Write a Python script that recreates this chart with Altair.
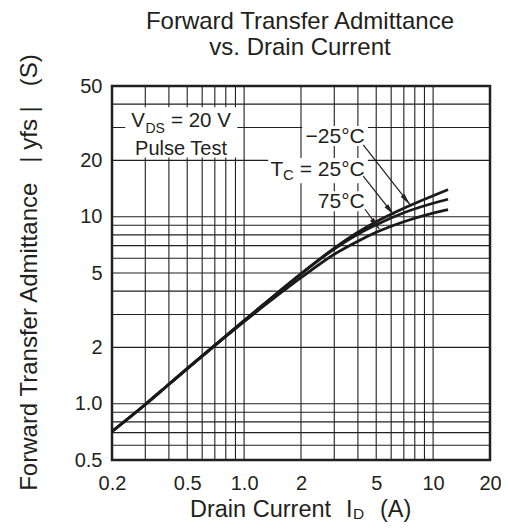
import altair as alt
import pandas as pd

# ---------------- data ----------------
current = [0.2, 0.3, 0.4, 0.5, 0.7, 1.0, 1.5, 2.0, 3.0, 4.0, 5.0, 7.0, 10.0, 12.0]
yfs_m25 = [0.71, 0.99, 1.27, 1.54, 2.05, 2.78, 3.91, 4.95, 6.79, 8.26, 9.40, 11.1, 12.95, 13.95]
yfs_p25 = [0.71, 0.99, 1.27, 1.54, 2.05, 2.78, 3.91, 4.95, 6.72, 8.06, 9.05, 10.5, 11.8, 12.4]
yfs_p75 = [0.71, 0.99, 1.27, 1.54, 2.05, 2.75, 3.79, 4.72, 6.30, 7.40, 8.25, 9.4, 10.45, 10.9]
series = ["-25°C", "25°C", "75°C"]

x_grid = [0.3, 0.4, 0.5, 0.6, 0.7, 0.8, 0.9, 1, 2, 3, 4, 5, 6, 7, 8, 9, 10]
y_grid = [0.6, 0.7, 0.8, 0.9, 1, 2, 3, 4, 5, 6, 7, 8, 9, 10, 20, 30, 40]
x_ticks = [0.2, 0.5, 1, 2, 5, 10, 20]
y_ticks = [0.5, 1, 2, 5, 10, 20, 50]

# annotation anchors (data units: A, S)
box_x = [[0.235, 0.92], [2.03, 4.52], [1.34, 4.52], [2.37, 4.52]]
box_y = [[20.7, 38.5], [23.9, 30.6], [15.1, 20.6], [10.7, 13.7]]
arrow_from = [(4.27, 24.2), (4.27, 16.5), (4.36, 10.96)]
arrow_to = [(7.55, 11.6), (6.21, 10.2), (5.19, 8.6)]
arrow_angle = [141.3, 140.5, 142.1]

INK = "#231f20"
FONT = "Liberation Sans"
NB = "\u00a0"

xs = alt.Scale(type="log", domain=[0.2, 20], nice=False)
ys = alt.Scale(type="log", domain=[0.5, 50], nice=False)

x_axis = alt.Axis(
    values=x_ticks, format="~g", labelExpr="datum.value == 1 ? '1.0' : datum.label",
    grid=False, ticks=False, domain=False, title=None, labelFontSize=20, labelFont=FONT,
    labelColor=INK, labelPadding=13, labelFlush=False)
y_axis = alt.Axis(
    values=y_ticks, format="~g", labelExpr="datum.value == 1 ? '1.0' : datum.label",
    grid=False, ticks=False, domain=False, title=None, labelFontSize=20, labelFont=FONT,
    labelColor=INK, labelPadding=10, labelFlush=False)


def X(field):
    return alt.X(field, scale=xs, axis=x_axis)


def Y(field):
    return alt.Y(field, scale=ys, axis=y_axis)


rows = []
for name, vals in zip(series, [yfs_m25, yfs_p25, yfs_p75]):
    for c, v in zip(current, vals):
        rows.append({"series": name, "id": c, "yfs": v})
curves_df = pd.DataFrame(rows)

xgrid = alt.Chart(pd.DataFrame({"g": x_grid})).mark_rule(color=INK, strokeWidth=1.1).encode(
    x=X("g:Q"))
ygrid = alt.Chart(pd.DataFrame({"g": y_grid})).mark_rule(color=INK, strokeWidth=1.1).encode(
    y=Y("g:Q"))

boxes = alt.Chart(pd.DataFrame({
    "x1": [b[0] for b in box_x], "x2": [b[1] for b in box_x],
    "y1": [b[0] for b in box_y], "y2": [b[1] for b in box_y]})).mark_rect(color="white").encode(
    x=X("x1:Q"), x2="x2:Q", y=Y("y1:Q"), y2="y2:Q")

curves = alt.Chart(curves_df).mark_line(color="#1a1a1a", strokeWidth=2.8, interpolate="monotone").encode(
    x=X("id:Q"), y=Y("yfs:Q"), detail="series:N")

arrow_lines = alt.Chart(pd.DataFrame({
    "x1": [a[0] for a in arrow_from], "y1": [a[1] for a in arrow_from],
    "x2": [a[0] for a in arrow_to], "y2": [a[1] for a in arrow_to]})).mark_rule(
    color=INK, strokeWidth=1.2).encode(x=X("x1:Q"), y=Y("y1:Q"), x2="x2:Q", y2="y2:Q")

heads = []
for (hx, hy), ang in zip(arrow_to, arrow_angle):
    heads.append(alt.Chart(pd.DataFrame({"x": [hx], "y": [hy]})).mark_point(
        shape="M0,0L-0.4,2L0.4,2Z", size=144, filled=True, color=INK, opacity=1,
        angle=ang, strokeWidth=0).encode(x=X("x:Q"), y=Y("y:Q")))


def dtext(txt, x, y, size, align="left", dx=0, dy=0):
    return alt.Chart(pd.DataFrame({"x": [x], "y": [y], "t": [txt]})).mark_text(
        font=FONT, fontSize=size, color=INK, align=align, baseline="alphabetic",
        dx=dx, dy=dy).encode(x=X("x:Q"), y=Y("y:Q"), text="t:N")


def ptext(txt, x, y, size, align="left", angle=0):
    return alt.Chart(pd.DataFrame({"t": [txt]})).mark_text(
        font=FONT, fontSize=size, color=INK, align=align, baseline="alphabetic",
        angle=angle).encode(x=alt.value(x), y=alt.value(y), text="t:N")


texts = [
    # V_DS = 20 V / Pulse Test
    dtext("V", 0.4636, 30.3, 20.5, dx=-49.7),
    dtext("DS", 0.4636, 30.3, 14, dx=-35.5, dy=6.5),
    dtext("= 20 V", 0.4636, 30.3, 20.5, dx=-10),
    dtext("Pulse Test", 0.4636, 21.5, 20, align="center"),
    # temperature labels
    dtext("\u221225°C", 4.35, 24.8, 21, align="right"),
    dtext(NB + "=" + NB + "25°C", 4.35, 16.5, 21, align="right"),
    dtext("C", 4.35, 16.5, 15, align="right", dx=-70.9, dy=4),
    dtext("T", 4.35, 16.5, 21, align="right", dx=-81.5),
    dtext("75°C", 4.35, 11.1, 21, align="right"),
    # titles
    ptext("Forward Transfer Admittance", 188, -57.5, 24, align="center"),
    ptext("vs. Drain Current", 188, -31, 24, align="center"),
    ptext("Forward Transfer Admittance" + NB * 3 + "|" + NB + "yfs" + NB + "|" + NB * 3 + "(S)",
          -75, 186.5, 24, align="center", angle=270),
    ptext("Drain Current", 78, 431, 23.5),
    ptext("I", 234, 431, 23.5),
    ptext("D", 241, 432.5, 15.5),
    ptext("(A)", 268, 431, 23.5),
]

chart = alt.layer(xgrid, ygrid, boxes, curves, arrow_lines, *heads, *texts).properties(
    width=378, height=374,
    padding={"left": 104, "top": 78, "right": 11, "bottom": 62},
    autosize=alt.AutoSizeParams(type="none"),
    background="white",
).configure_view(stroke=INK, strokeWidth=2.5)

chart.save("out.html", embed_options={"renderer": "svg", "actions": False})
